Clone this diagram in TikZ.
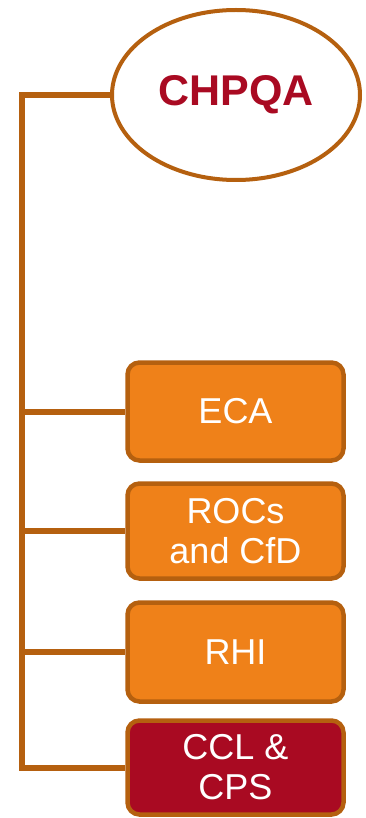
\documentclass[tikz,border=0pt]{standalone}
\usepackage{fontspec}
\setmainfont{Liberation Sans}
\usetikzlibrary{shapes.geometric}
\definecolor{chporange}{HTML}{EF8119}
\definecolor{chpbrown}{HTML}{B5600F}
\definecolor{chpred}{HTML}{A90A22}
\begin{document}
\begin{tikzpicture}
[x=1pt,y=-1pt,
 every node/.style=
   {font=\fontsize{36}{40}\selectfont,text=white,align=center},
 scheme/.style={rectangle,rounded corners=12pt,draw=chpbrown,line width=4.5pt,
   fill=chporange,minimum width=216pt,minimum height=98pt,inner sep=0pt},
 link/.style={draw=chpbrown,line width=6pt}]
\useasboundingbox (0,0) rectangle (366,818);
\node (chpqa) [ellipse,draw=chpbrown,line width=4pt,fill=white,
  minimum width=248pt,minimum height=170pt,text=chpred,
  font=\fontsize{43}{46}\selectfont\bfseries] at (236,95) {CHPQA};
\node (eca)  [scheme,minimum height=98pt] at (235.5,411.5) {ECA};
\node (rocs) [scheme,minimum height=95pt] at (235.5,531) {ROCs\\and CfD};
\node (rhi)  [scheme,minimum height=99pt] at (235.5,652) {RHI};
\node (ccl)  [scheme,minimum height=94pt,fill=chpred] at (235.5,767.5) {CCL \&\\CPS};
\draw[link] (chpqa.west) -- ++(-88,0) coordinate (trunk) |- (ccl.west);
\foreach \n in {eca,rocs,rhi}
  \draw[link] (trunk |- \n.west) -- (\n.west);
\end{tikzpicture}
\end{document}
